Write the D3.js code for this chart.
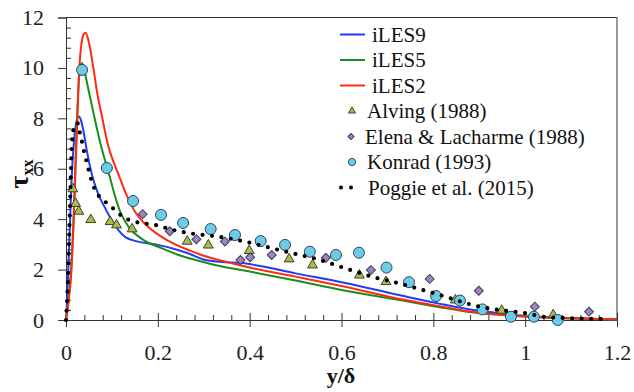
<!DOCTYPE html>
<html><head><meta charset="utf-8">
<script src="https://cdn.jsdelivr.net/npm/d3@7"></script>
<style>body{margin:0;background:#fff}svg{display:block}</style>
</head><body><svg id="c" width="634" height="392"></svg>
<script>
const xTicks=[0,0.2,0.4,0.6,0.8,1,1.2];
const xTickLabels=["0","0.2","0.4","0.6","0.8","1","1.2"];
const yTicks=[0,2,4,6,8,10,12];
const yTickLabels=["0","2","4","6","8","10","12"];
const seriesNames=["iLES9","iLES5","iLES2","Alving (1988)","Elena & Lacharme (1988)","Konrad (1993)","Poggie et al. (2015)"];

const iLES9=[[0,0],[0.003,1],[0.006,2.5],[0.009,4],[0.012,5.5],[0.017,7.0],[0.022,7.8],[0.028,8.07],[0.033,7.9],[0.038,7.5],[0.045,6.75],[0.056,5.8],[0.07,5.0],[0.085,4.45],[0.1,3.95],[0.115,3.55],[0.13,3.28],[0.157,3.11],[0.2,2.98],[0.24,2.8],[0.27,2.62],[0.3,2.4],[0.34,2.3],[0.38,2.27],[0.42,2.15],[0.5,1.85],[0.6,1.5],[0.73,0.97],[0.81,0.66],[0.88,0.42],[0.95,0.26],[1.0,0.16],[1.1,0.07],[1.2,0.02]];
const iLES5=[[0,0],[0.011,2.0],[0.016,3.8],[0.02,5.9],[0.024,8.0],[0.028,9.5],[0.032,10.1],[0.035,10.2],[0.04,9.9],[0.047,9.3],[0.06,8.2],[0.075,7.0],[0.095,5.7],[0.107,4.9],[0.118,4.3],[0.136,3.7],[0.165,3.22],[0.208,2.85],[0.25,2.55],[0.3,2.3],[0.34,2.12],[0.4,1.92],[0.5,1.57],[0.6,1.19],[0.73,0.78],[0.81,0.52],[0.87,0.34],[0.95,0.2],[1.0,0.14],[1.1,0.07],[1.2,0.02]];
const iLES2=[[0,0],[0.006,0.8],[0.012,2.0],[0.016,3.6],[0.02,5.6],[0.024,7.6],[0.029,10.0],[0.034,11.0],[0.039,11.35],[0.043,11.4],[0.05,11.0],[0.06,9.95],[0.068,9.0],[0.078,8.1],[0.092,6.9],[0.105,6.2],[0.118,5.6],[0.132,4.95],[0.15,4.3],[0.179,3.7],[0.22,3.17],[0.27,2.75],[0.3,2.55],[0.34,2.35],[0.4,2.08],[0.5,1.72],[0.6,1.35],[0.73,0.82],[0.81,0.56],[0.87,0.36],[0.95,0.2],[1.0,0.14],[1.1,0.07],[1.2,0.02]];
const alving=[[0.015,5.23],[0.021,4.65],[0.028,4.34],[0.054,4.01],[0.096,3.93],[0.110,3.80],[0.144,3.64],[0.264,3.15],[0.31,3.00],[0.399,2.78],[0.486,2.45],[0.537,2.21],[0.639,1.81],[0.697,1.55],[0.848,0.82],[0.949,0.41],[1.061,0.23]];
const elena=[[0.167,4.20],[0.226,3.52],[0.284,3.20],[0.346,3.11],[0.380,2.38],[0.401,2.49],[0.448,2.58],[0.566,2.47],[0.664,1.98],[0.792,1.63],[0.899,1.16],[1.021,0.53],[1.139,0.33]];
const konrad=[[0.035,9.92],[0.089,6.03],[0.146,4.72],[0.207,4.17],[0.255,3.85],[0.315,3.61],[0.368,3.37],[0.424,3.13],[0.477,2.98],[0.531,2.71],[0.588,2.58],[0.638,2.67],[0.698,2.08],[0.747,1.50],[0.806,0.95],[0.858,0.77],[0.907,0.42],[0.969,0.13],[1.019,0.13],[1.071,0.0]];
const poggie=[[0,0],[0.003,1],[0.005,2],[0.0065,3],[0.008,4],[0.0095,5],[0.011,6],[0.013,7],[0.016,7.55],[0.021,7.8],[0.026,7.8],[0.03,7.45],[0.035,7.05],[0.04,6.62],[0.046,6.2],[0.052,5.75],[0.06,5.3],[0.07,4.96],[0.083,4.73],[0.10,4.47],[0.125,4.08],[0.15,3.9],[0.194,3.77],[0.234,3.57],[0.27,3.44],[0.33,3.31],[0.39,3.11],[0.448,2.85],[0.488,2.67],[0.548,2.41],[0.608,2.05],[0.666,1.72],[0.724,1.46],[0.783,1.16],[0.822,0.95],[0.88,0.62],[0.92,0.46],[0.96,0.36],[1.0,0.27],[1.04,0.13],[1.1,0.07],[1.183,0.04]];

const colors={iLES9:"#1f3df2",iLES5:"#1c8c1c",iLES2:"#ff2a14"};
const SERIF='"Liberation Serif"';
const svg=d3.select("#c");
const x=d3.scaleLinear().domain([0,1.2]).range([66,617]);
const y=d3.scaleLinear().domain([0,12]).range([320,17.5]);
const axisCol="#333";

// frame
svg.append("line").attr("x1",x(0)).attr("x2",x(1.2)).attr("y1",y(12)).attr("y2",y(12)).attr("stroke",axisCol).attr("stroke-width",1);
svg.append("line").attr("x1",x(1.2)).attr("x2",x(1.2)).attr("y1",y(12)).attr("y2",y(0)).attr("stroke",axisCol).attr("stroke-width",1);

// x axis
const xMinor=d3.range(0,1.2001,0.04).filter(v=>Math.abs(v/0.2-Math.round(v/0.2))>1e-6);
const gx=svg.append("g").attr("transform",`translate(0,${y(0)})`);
gx.call(d3.axisBottom(x).tickValues(xTicks).tickFormat((d,i)=>xTickLabels[i]).tickSize(7).tickPadding(17));
gx.select(".domain").attr("stroke",axisCol);
gx.selectAll(".tick line").attr("y1",-7).attr("y2",7).attr("stroke",axisCol);
gx.selectAll(".tick text").style("font-family",SERIF).style("font-size","22px").attr("fill","#222");
const gxm=svg.append("g").attr("transform",`translate(0,${y(0)})`);
gxm.call(d3.axisTop(x).tickValues(xMinor).tickSize(5).tickFormat(""));
gxm.select(".domain").remove();
gxm.selectAll(".tick line").attr("stroke",axisCol);

// y axis
const yMinor=d3.range(0,12.001,0.4).filter(v=>Math.abs(v/2-Math.round(v/2))>1e-6);
const gy=svg.append("g").attr("transform",`translate(${x(0)},0)`);
gy.call(d3.axisLeft(y).tickValues(yTicks).tickFormat((d,i)=>yTickLabels[i]).tickSize(8).tickPadding(14));
gy.select(".domain").attr("stroke",axisCol);
gy.selectAll(".tick line").attr("stroke",axisCol);
gy.selectAll(".tick text").style("font-family",SERIF).style("font-size","22px").attr("fill","#222");
const gym=svg.append("g").attr("transform",`translate(${x(0)},0)`);
gym.call(d3.axisRight(y).tickValues(yMinor).tickSize(5).tickFormat(""));
gym.select(".domain").remove();
gym.selectAll(".tick line").attr("stroke",axisCol);

// axis titles
svg.append("text").attr("x",341).attr("y",383).attr("text-anchor","middle").style("font-family",SERIF).style("font-weight","bold").style("font-size","22px").attr("fill","#111").text("y/δ");
const yl=svg.append("text").attr("transform","translate(28,174) rotate(-90)").attr("text-anchor","middle").style("font-family",SERIF).style("font-weight","bold").attr("fill","#111");
yl.append("tspan").style("font-size","28px").text("τ");
yl.append("tspan").style("font-size","16px").attr("dy",5).text("xx");

// lines
const line=d3.line().x(d=>x(d[0])).y(d=>y(d[1])).curve(d3.curveMonotoneX);
[["iLES9",iLES9],["iLES5",iLES5],["iLES2",iLES2]].forEach(([n,d])=>{
  svg.append("path").datum(d).attr("d",line).attr("fill","none").attr("stroke",colors[n]).attr("stroke-width",2);
});

// markers
const tri=d3.symbol().type(d3.symbolTriangle).size(42);
const sq=d3.symbol().type(d3.symbolSquare).size(40);
svg.append("g").selectAll("path").data(alving).join("path").attr("d",tri).attr("transform",d=>`translate(${x(d[0])},${y(d[1])+0.8})`).attr("fill","#a9bb4f").attr("stroke","#3e4422").attr("stroke-width",1);
svg.append("g").selectAll("path").data(elena).join("path").attr("d",sq).attr("transform",d=>`translate(${x(d[0])},${y(d[1])}) rotate(45)`).attr("fill","#9a86c6").attr("stroke","#3f3a4e").attr("stroke-width",1);
svg.append("g").selectAll("circle").data(konrad).join("circle").attr("cx",d=>x(d[0])).attr("cy",d=>y(d[1])).attr("r",5.5).attr("fill","#6dcbe8").attr("stroke","#284a5a").attr("stroke-width",1);

// poggie dotted
svg.append("path").datum(poggie).attr("d",line).attr("fill","none").attr("stroke","#000").attr("stroke-width",4.2).attr("stroke-linecap","round").attr("stroke-dasharray","0,9.5");

// legend
const ly0=34.5, ldy=25.5;
const lg=svg.append("g").attr("fill","#111");
function ltext(xx,yy,t){lg.append("text").style("font-family",SERIF).style("font-size","21px").attr("x",xx).attr("y",yy).attr("dy","0.35em").text(t);}
["iLES9","iLES5","iLES2"].forEach((n,i)=>{
  const yy=ly0+i*ldy;
  lg.append("line").attr("x1",340).attr("x2",365).attr("y1",yy).attr("y2",yy).attr("stroke",colors[n]).attr("stroke-width",2);
  ltext(372,yy,seriesNames[i]);
});
let yy=ly0+3*ldy;
lg.append("path").attr("d",d3.symbol().type(d3.symbolTriangle).size(22)).attr("transform",`translate(352,${yy})`).attr("fill","#a9bb4f").attr("stroke","#3e4422").attr("stroke-width",1);
ltext(367,yy,seriesNames[3]);
yy=ly0+4*ldy;
lg.append("path").attr("d",d3.symbol().type(d3.symbolSquare).size(18)).attr("transform",`translate(351,${yy}) rotate(45)`).attr("fill","#9a86c6").attr("stroke","#3f3a4e").attr("stroke-width",1);
ltext(365,yy,seriesNames[4]);
yy=ly0+5*ldy;
lg.append("circle").attr("cx",352).attr("cy",yy).attr("r",3.6).attr("fill","#6dcbe8").attr("stroke","#284a5a").attr("stroke-width",1);
ltext(367,yy,seriesNames[5]);
yy=ly0+6*ldy;
lg.append("line").attr("x1",341).attr("x2",361).attr("y1",yy).attr("y2",yy).attr("stroke","#000").attr("stroke-width",4).attr("stroke-linecap","round").attr("stroke-dasharray","0,10");
ltext(368,yy,seriesNames[6]);
</script></body></html>
